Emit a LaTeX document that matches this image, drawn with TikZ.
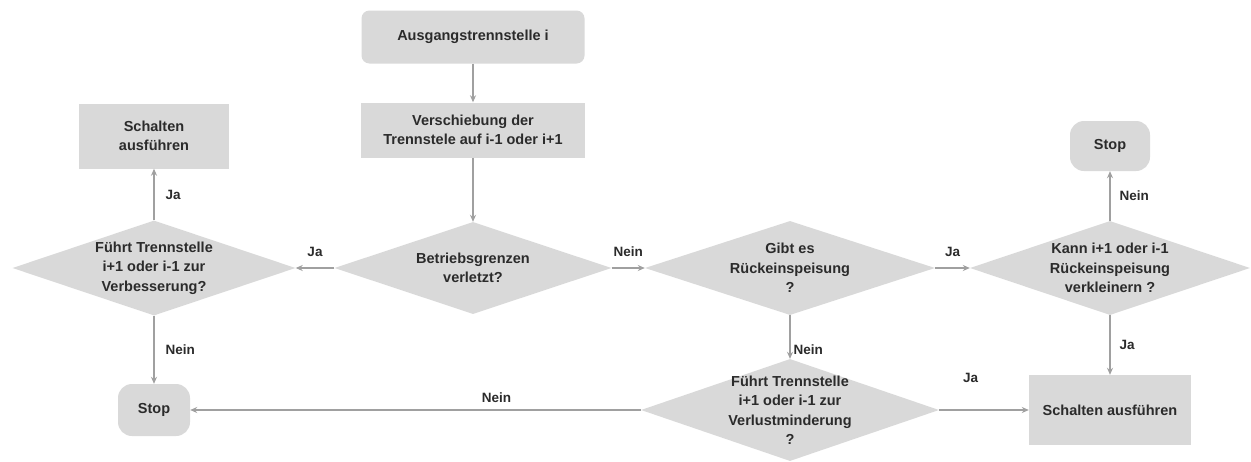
\documentclass[tikz,border=0pt]{standalone}
\usepackage{fontspec}
\setmainfont{Liberation Sans}
\usetikzlibrary{shapes.geometric,arrows.meta}
\definecolor{boxfill}{HTML}{D9D9D9}
\definecolor{linegray}{HTML}{A0A0A0}
\definecolor{txt}{HTML}{2B2B2B}
\tikzset{
  box/.style={rectangle, fill=boxfill, draw=none, font=\bfseries\fontsize{14.5}{19.5}\selectfont, text=txt, align=center, inner sep=0pt},
  rbox/.style={box, rounded corners=8pt},
  term/.style={box, rounded corners=14pt},
  dia/.style={diamond, fill=boxfill, draw=none, inner sep=0pt},
  dtext/.style={font=\bfseries\fontsize{14.5}{19.5}\selectfont, text=txt, align=center, inner sep=0pt},
  lbl/.style={font=\bfseries\fontsize{13.5}{15}\selectfont, text=txt, inner sep=1pt},
  arr/.style={draw=linegray, line width=1.2pt, -{Stealth[length=7pt,width=6pt]}}
}
\begin{document}
\begin{tikzpicture}[x=1pt,y=-1pt]
\useasboundingbox[fill=white] (0,0) rectangle (1251,461);
% nodes
\node[rbox, minimum width=223pt, minimum height=53pt] (start) at (473,37) {Ausgangstrennstelle i};
\node[box, minimum width=224pt, minimum height=55pt] (shift) at (473,130) {Verschiebung der\\Trennstele auf i-1 oder i+1};
\node[dia, minimum width=277pt, minimum height=92pt] (betr) at (473,268) {};
\node[dtext] (betrt) at (betr) {Betriebsgrenzen\\verletzt?};
\node[dia, minimum width=283pt, minimum height=95pt] (verb) at (154,268) {};
\node[dtext] (verbt) at (verb) {Führt Trennstelle\\i+1 oder i-1 zur\\Verbesserung?};
\node[box, minimum width=150pt, minimum height=65pt] (sl) at (154,136) {Schalten\\ausführen};
\node[term, minimum width=72pt, minimum height=52pt] (stopl) at (154,410) {Stop};
\node[dia, minimum width=290pt, minimum height=94pt] (gibt) at (790,268) {};
\node[dtext] (gibtt) at (gibt) {Gibt es\\Rückeinspeisung\\?};
\node[dia, minimum width=280pt, minimum height=94pt] (kann) at (1110,268) {};
\node[dtext] (kannt) at (kann) {Kann i+1 oder i-1\\Rückeinspeisung\\verkleinern ?};
\node[term, minimum width=80pt, minimum height=50pt] (stopr) at (1110,146) {Stop};
\node[dia, minimum width=298pt, minimum height=102pt] (verl) at (790,410) {};
\node[dtext] (verlt) at (verl) {Führt Trennstelle\\i+1 oder i-1 zur\\Verlustminderung\\?};
\node[box, minimum width=162pt, minimum height=70pt] (sr) at (1110,410) {Schalten ausführen};
% connectors
\draw[arr] (start) -- (shift);
\draw[arr] (shift) -- (betr.north);
\draw[arr] (betr.west) -- (verb.east) node[lbl, midway, above=10pt] {Ja};
\draw[arr] (verb.north) -- (sl.south) node[lbl, midway, right=10pt] {Ja};
\draw[arr] (verb.south) -- (stopl.north) node[lbl, midway, right=10pt] {Nein};
\draw[arr] (betr.east) -- (gibt.west) node[lbl, midway, above=10pt] {Nein};
\draw[arr] (gibt.east) -- (kann.west) node[lbl, midway, above=10pt] {Ja};
\draw[arr] (kann.north) -- (stopr.south) node[lbl, midway, right=8pt] {Nein};
\draw[arr] (kann.south) -- (sr.north) node[lbl, midway, right=8pt] {Ja};
\draw[arr] (gibt.south) -- (verl.north) node[lbl, pos=0.8, right=2pt] {Nein};
\draw[arr] (verl.west) -- (stopl.east) node[lbl, pos=0.32, above=6pt] {Nein};
\draw[arr] (verl.east) -- (sr.west) node[lbl, pos=0.35, above=26pt] {Ja};
\end{tikzpicture}
\end{document}
